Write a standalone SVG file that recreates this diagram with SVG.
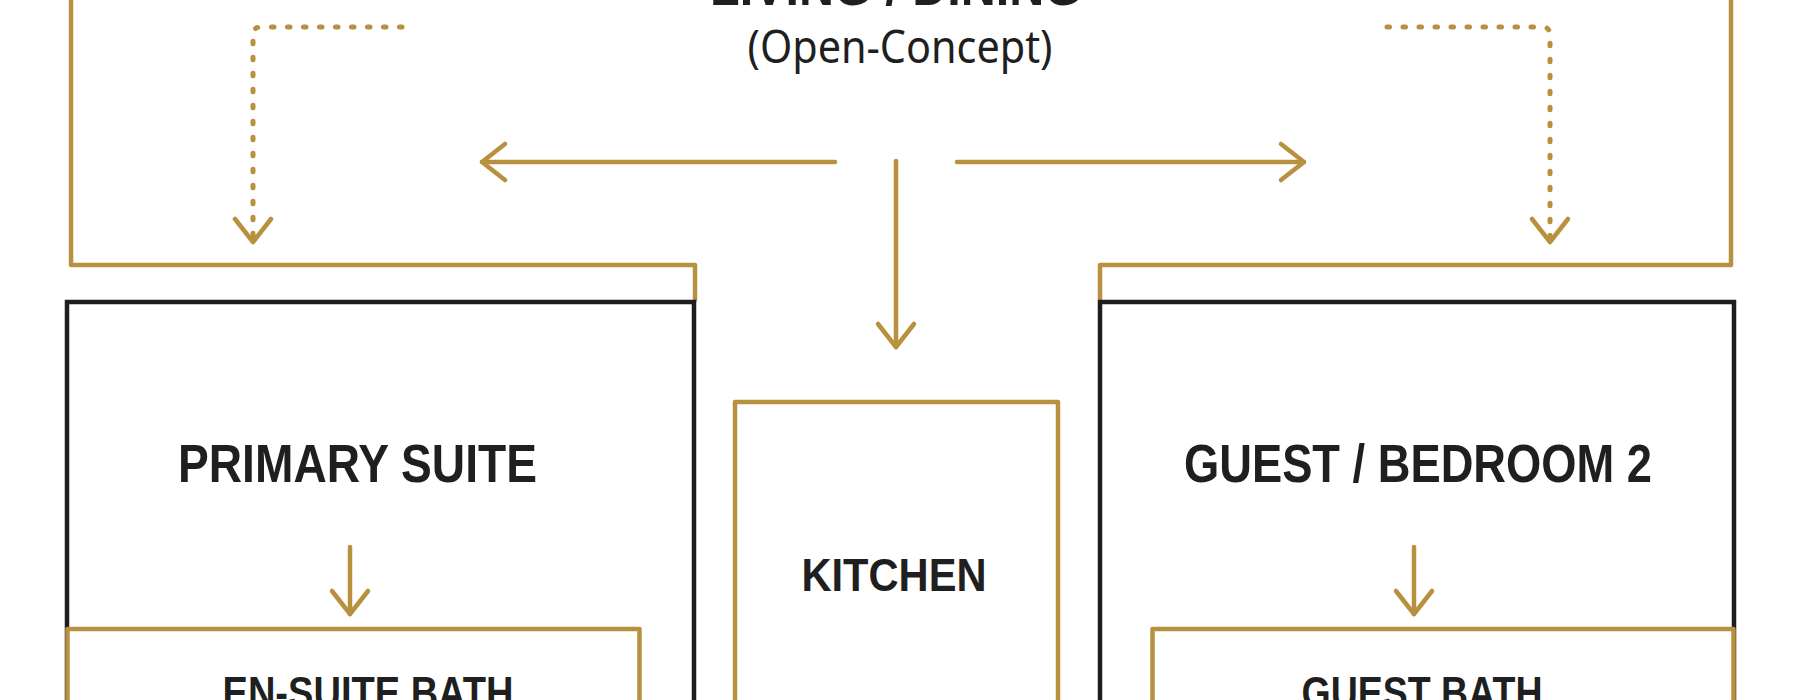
<svg xmlns="http://www.w3.org/2000/svg" width="1800" height="700" viewBox="0 0 1800 700">
  <style>
    .gold { fill: none; stroke: #B8913F; stroke-width: 4.5; stroke-linecap: round; stroke-linejoin: round; }
    .goldbox { fill: #FFFFFF; stroke: #B8913F; stroke-width: 4.5; stroke-linejoin: round; }
    .blackbox { fill: #FFFFFF; stroke: #1E1E1E; stroke-width: 4.5; }
    .dot { fill: none; stroke: #B8913F; stroke-width: 5; stroke-linecap: round; stroke-dasharray: 2.5 13.5; }
    .head { font-family: "Liberation Sans", Arial, sans-serif; font-weight: bold; fill: #1F1F1F; text-anchor: middle; }
    .sub { font-family: "Noto Sans", "Open Sans", sans-serif; font-weight: normal; fill: #1F1F1F; text-anchor: middle; }
  </style>
  <defs>
    <marker id="chev" markerUnits="userSpaceOnUse" viewBox="-30 -24 36 48" markerWidth="36" markerHeight="48" refX="0" refY="0" orient="auto">
      <path d="M-23,-18 L0,0 L-23,18" fill="none" stroke="#B8913F" stroke-width="4.5" stroke-linecap="round" stroke-linejoin="round"/>
    </marker>
  </defs>
  <rect width="1800" height="700" fill="#FFFFFF"/>

  <g id="living-dining">
    <path class="gold" d="M71,-20 V265 H695 V300"/>
    <path class="gold" d="M1731,-20 V265 H1100 V300"/>
    <text class="head" x="896" y="5" font-size="53" textLength="372" lengthAdjust="spacingAndGlyphs">LIVING / DINING</text>
    <text class="sub" x="900" y="63" font-size="46" textLength="305" lengthAdjust="spacingAndGlyphs">(Open-Concept)</text>
  </g>

  <g id="primary-suite">
    <rect class="blackbox" x="67" y="302" width="627" height="500"/>
    <text class="head" x="357.5" y="482" font-size="53.5" textLength="359" lengthAdjust="spacingAndGlyphs">PRIMARY SUITE</text>
  </g>

  <g id="guest-bedroom">
    <rect class="blackbox" x="1100" y="302" width="634" height="500"/>
    <text class="head" x="1418" y="482" font-size="53.5" textLength="468" lengthAdjust="spacingAndGlyphs">GUEST / BEDROOM 2</text>
  </g>

  <g id="kitchen">
    <rect class="goldbox" x="735" y="402" width="323" height="400"/>
    <text class="head" x="894" y="591" font-size="46.5" textLength="185" lengthAdjust="spacingAndGlyphs">KITCHEN</text>
  </g>

  <g id="en-suite-bath">
    <rect class="goldbox" x="67.5" y="629" width="572" height="200"/>
    <text class="head" x="368" y="708" font-size="43.5" textLength="291" lengthAdjust="spacingAndGlyphs">EN-SUITE BATH</text>
  </g>

  <g id="guest-bath">
    <rect class="goldbox" x="1152.5" y="629" width="581" height="200"/>
    <text class="head" x="1422" y="708" font-size="43.5" textLength="241" lengthAdjust="spacingAndGlyphs">GUEST BATH</text>
  </g>

  <g id="connectors">
    <path class="dot" d="M402,27 H261 Q253,27 253,35 V242" marker-end="url(#chev)"/>
    <path class="dot" d="M1387,27 H1542 Q1550,27 1550,35 V242" marker-end="url(#chev)"/>
    <path class="gold" d="M835,162 H482" marker-end="url(#chev)"/>
    <path class="gold" d="M957,162 H1304" marker-end="url(#chev)"/>
    <path class="gold" d="M896,161 V347" marker-end="url(#chev)"/>
    <path class="gold" d="M350,547 V614" marker-end="url(#chev)"/>
    <path class="gold" d="M1414,547 V614" marker-end="url(#chev)"/>
  </g>
</svg>
